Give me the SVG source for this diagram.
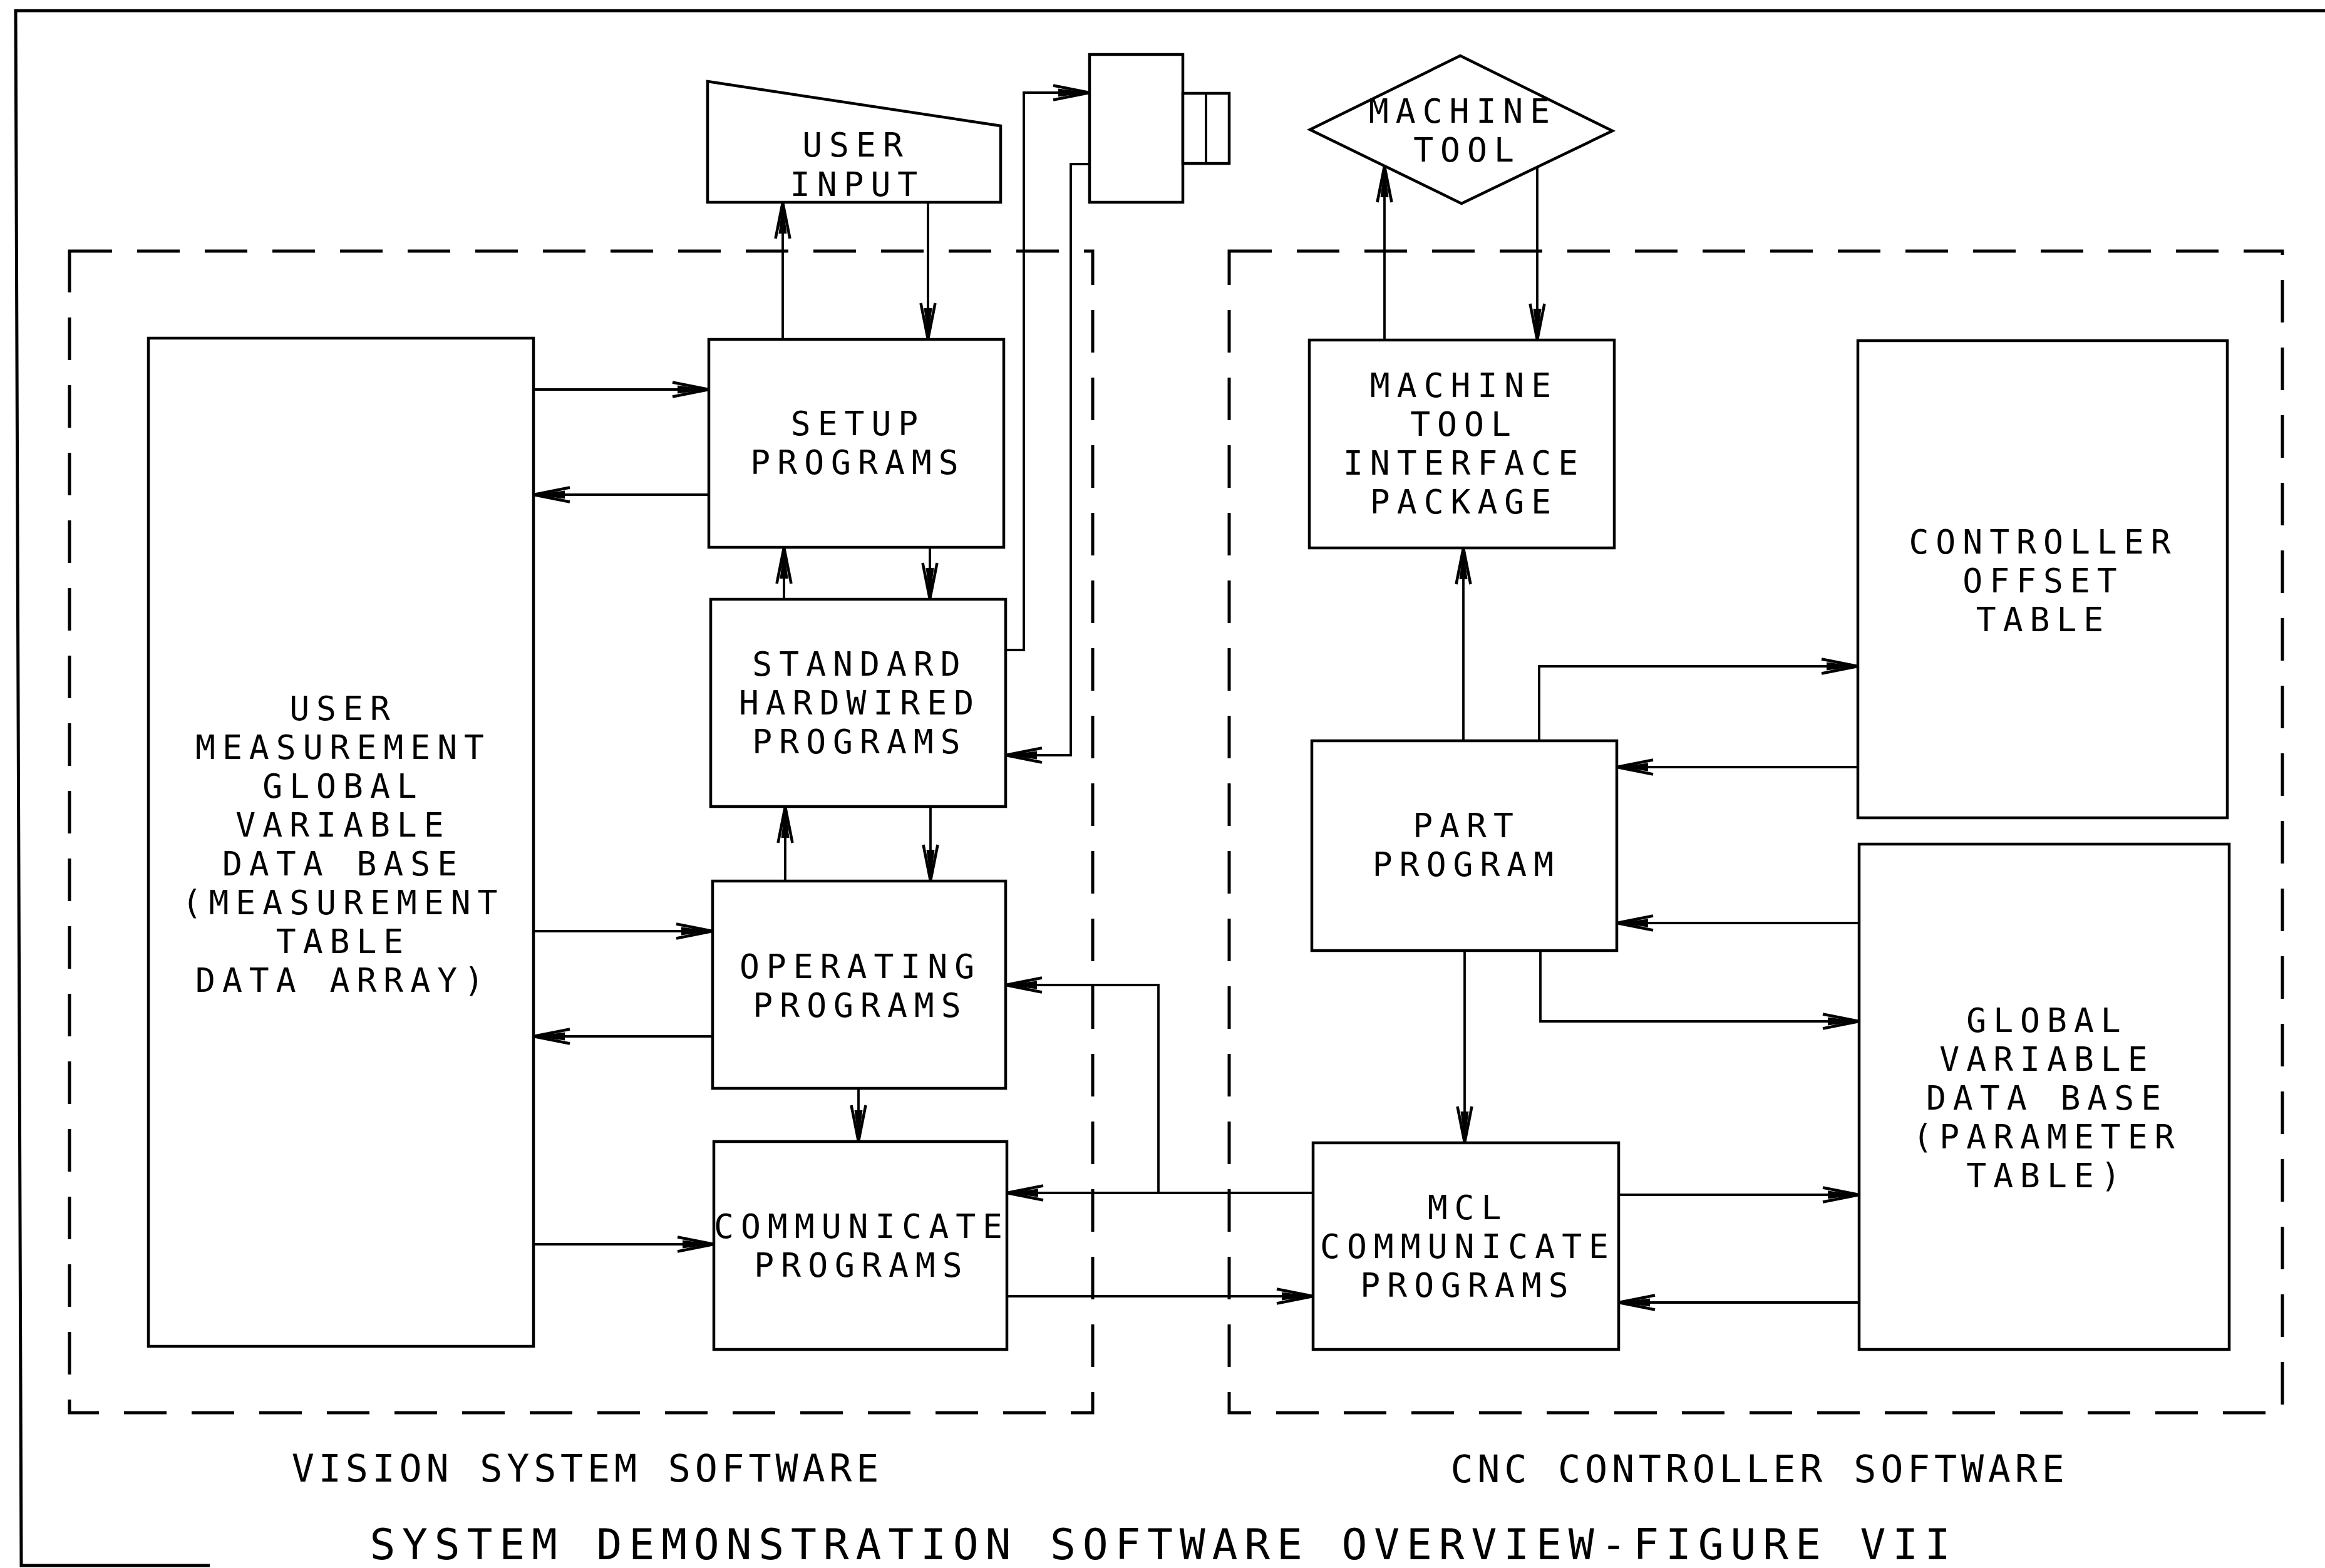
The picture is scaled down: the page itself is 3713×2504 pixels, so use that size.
<svg xmlns="http://www.w3.org/2000/svg" width="3713" height="2504" viewBox="0 0 3713 2504">
<defs>
<style>
.box{fill:#fff;stroke:#000;stroke-width:4.5;stroke-linejoin:miter}
.ln{fill:none;stroke:#000;stroke-width:3.8;stroke-linejoin:miter}
.dash{fill:none;stroke:#000;stroke-width:5;stroke-dasharray:68 40}
.t{font-family:"DejaVu Sans Mono","Liberation Mono",monospace;font-size:53px;letter-spacing:11px;text-anchor:middle;fill:#000}
.lbl{font-size:60px;letter-spacing:6.8px}
.title{font-size:68px;letter-spacing:10.8px}
</style>
<marker id="ah" markerUnits="userSpaceOnUse" markerWidth="90" markerHeight="40" viewBox="0 0 90 40" refX="80" refY="20" orient="auto" overflow="visible">
<path d="M22,8.5 L80,20 L22,31.5" fill="none" stroke="#000" stroke-width="4.5"/>
<path d="M80,20 L30,13.5 L30,26.5 Z" fill="#000"/>
</marker>
</defs>
<rect width="3713" height="2504" fill="#fff"/>
<path d="M3713,17 L25,17 L34,2500 L335,2500" fill="none" stroke="#000" stroke-width="5"/>
<g id="groups">
<rect id="vision-frame" class="dash" x="111" y="401" width="1634" height="1855"/>
<rect id="cnc-frame" class="dash" x="1963" y="401" width="1682" height="1855"/>
<text class="t lbl" x="938" y="2366">VISION SYSTEM SOFTWARE</text>
<text class="t lbl" x="2810" y="2367">CNC CONTROLLER SOFTWARE</text>
</g>
<g id="connectors">
<path class="ln" d="M852,622 H1132" marker-end="url(#ah)"/>
<path class="ln" d="M1132,790 H852" marker-end="url(#ah)"/>
<path class="ln" d="M1250,542 V323" marker-end="url(#ah)"/>
<path class="ln" d="M1482,323 V542" marker-end="url(#ah)"/>
<path class="ln" d="M1252,957 V874" marker-end="url(#ah)"/>
<path class="ln" d="M1485,874 V957" marker-end="url(#ah)"/>
<path class="ln" d="M1606,1038 H1635 V148 H1740" marker-end="url(#ah)"/>
<path class="ln" d="M1740,262 H1710 V1206 H1606" marker-end="url(#ah)"/>
<path class="ln" d="M1254,1407 V1288" marker-end="url(#ah)"/>
<path class="ln" d="M1486,1288 V1407" marker-end="url(#ah)"/>
<path class="ln" d="M852,1487 H1138" marker-end="url(#ah)"/>
<path class="ln" d="M1138,1655 H852" marker-end="url(#ah)"/>
<path class="ln" d="M1371,1738 V1823" marker-end="url(#ah)"/>
<path class="ln" d="M852,1987 H1140" marker-end="url(#ah)"/>
<path class="ln" d="M1608,2070 H2097" marker-end="url(#ah)"/>
<path class="ln" d="M2097,1905 H1608" marker-end="url(#ah)"/>
<path class="ln" d="M1850,1905 V1573 H1606" marker-end="url(#ah)"/>
<path class="ln" d="M2211,543 V265" marker-end="url(#ah)"/>
<path class="ln" d="M2455,268 V543" marker-end="url(#ah)"/>
<path class="ln" d="M2337,1183 V875" marker-end="url(#ah)"/>
<path class="ln" d="M2458,1183 V1064 H2967" marker-end="url(#ah)"/>
<path class="ln" d="M2967,1225 H2582" marker-end="url(#ah)"/>
<path class="ln" d="M2969,1474 H2582" marker-end="url(#ah)"/>
<path class="ln" d="M2460,1518 V1631 H2969" marker-end="url(#ah)"/>
<path class="ln" d="M2339,1518 V1825" marker-end="url(#ah)"/>
<path class="ln" d="M2585,1908 H2969" marker-end="url(#ah)"/>
<path class="ln" d="M2969,2080 H2585" marker-end="url(#ah)"/>
</g>
<g id="user-measurement">
<rect class="box" x="237" y="540" width="615" height="1610"/>
<text class="t" x="548" y="1150">USER</text>
<text class="t" x="548" y="1212">MEASUREMENT</text>
<text class="t" x="548" y="1274">GLOBAL</text>
<text class="t" x="548" y="1336">VARIABLE</text>
<text class="t" x="548" y="1398">DATA BASE</text>
<text class="t" x="548" y="1460">(MEASUREMENT</text>
<text class="t" x="548" y="1522">TABLE</text>
<text class="t" x="548" y="1584">DATA ARRAY)</text>
</g>
<g id="user-input">
<path class="box" d="M1130,130 L1598,201 L1598,323 L1130,323 Z"/>
<text class="t" x="1367" y="250">USER</text>
<text class="t" x="1369" y="313">INPUT</text>
</g>
<g id="camera">
<rect class="box" x="1740" y="87" width="149" height="236"/>
<rect class="box" x="1889" y="149" width="74" height="112"/>
<line class="ln" x1="1926" y1="149" x2="1926" y2="261" stroke-width="4.5"/>
</g>
<g id="setup">
<rect class="box" x="1132" y="542" width="471" height="332"/>
<text class="t" x="1370" y="695">SETUP</text>
<text class="t" x="1370" y="757">PROGRAMS</text>
</g>
<g id="standard">
<rect class="box" x="1135" y="957" width="471" height="331"/>
<text class="t" x="1373" y="1079">STANDARD</text>
<text class="t" x="1373" y="1141">HARDWIRED</text>
<text class="t" x="1373" y="1203">PROGRAMS</text>
</g>
<g id="operating">
<rect class="box" x="1138" y="1407" width="468" height="331"/>
<text class="t" x="1374" y="1562">OPERATING</text>
<text class="t" x="1374" y="1624">PROGRAMS</text>
</g>
<g id="communicate">
<rect class="box" x="1140" y="1823" width="468" height="332"/>
<text class="t" x="1376" y="1977">COMMUNICATE</text>
<text class="t" x="1376" y="2039">PROGRAMS</text>
</g>
<g id="machine-tool">
<path class="box" d="M2092,207 L2332,89 L2575,209 L2334,325 Z"/>
<text class="t" x="2336" y="196">MACHINE</text>
<text class="t" x="2343" y="258">TOOL</text>
</g>
<g id="mtip">
<rect class="box" x="2091" y="543" width="487" height="332"/>
<text class="t" x="2338" y="634">MACHINE</text>
<text class="t" x="2338" y="696">TOOL</text>
<text class="t" x="2338" y="758">INTERFACE</text>
<text class="t" x="2338" y="820">PACKAGE</text>
</g>
<g id="part-program">
<rect class="box" x="2095" y="1183" width="487" height="335"/>
<text class="t" x="2342" y="1337">PART</text>
<text class="t" x="2342" y="1399">PROGRAM</text>
</g>
<g id="mcl">
<rect class="box" x="2097" y="1825" width="488" height="330"/>
<text class="t" x="2344" y="1947">MCL</text>
<text class="t" x="2344" y="2009">COMMUNICATE</text>
<text class="t" x="2344" y="2071">PROGRAMS</text>
</g>
<g id="controller-offset">
<rect class="box" x="2967" y="544" width="590" height="762"/>
<text class="t" x="3263" y="884">CONTROLLER</text>
<text class="t" x="3263" y="946">OFFSET</text>
<text class="t" x="3263" y="1008">TABLE</text>
</g>
<g id="global-variable">
<rect class="box" x="2969" y="1348" width="591" height="807"/>
<text class="t" x="3269" y="1648">GLOBAL</text>
<text class="t" x="3269" y="1710">VARIABLE</text>
<text class="t" x="3269" y="1772">DATA BASE</text>
<text class="t" x="3269" y="1834">(PARAMETER</text>
<text class="t" x="3269" y="1896">TABLE)</text>
</g>
<text class="t title" x="1858" y="2490">SYSTEM DEMONSTRATION SOFTWARE OVERVIEW-FIGURE VII</text>
</svg>
